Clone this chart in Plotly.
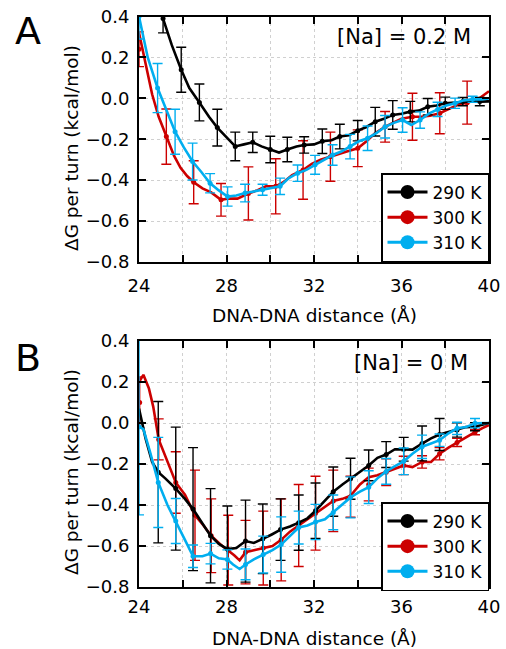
import plotly.graph_objects as go

W, H = 506, 649

# ---------------- Panel A : [Na] = 0.2 M ----------------
a290_line_x = [25.1, 25.5, 25.93, 26.3, 26.76, 27.2, 27.58, 28.0, 28.4, 28.8, 29.2, 29.6, 30.0, 30.4, 30.78, 31.2, 31.55, 32.0, 32.38, 32.8, 33.18, 33.6, 34.0, 34.4, 34.8, 35.2, 35.6, 36.0, 36.4, 36.8, 37.2, 37.6, 38.0, 38.4, 38.8, 39.2, 39.58, 40.0]
a290_line_y = [0.39, 0.26, 0.14, 0.05, -0.02, -0.09, -0.143, -0.19, -0.235, -0.225, -0.215, -0.235, -0.25, -0.265, -0.25, -0.235, -0.228, -0.225, -0.21, -0.205, -0.187, -0.18, -0.158, -0.14, -0.114, -0.1, -0.081, -0.075, -0.065, -0.06, -0.041, -0.035, -0.024, -0.02, -0.016, -0.015, -0.016, -0.015]
a290_x = [25.1, 25.93, 26.76, 27.58, 28.4, 29.2, 30.0, 30.78, 31.55, 32.38, 33.18, 34.0, 34.8, 35.6, 36.4, 37.2, 38.0, 38.8, 39.58]
a290_y = [0.39, 0.14, -0.02, -0.143, -0.235, -0.215, -0.25, -0.25, -0.228, -0.21, -0.187, -0.158, -0.114, -0.081, -0.065, -0.041, -0.024, -0.016, -0.016]
a290_err = [0.07, 0.11, 0.09, 0.09, 0.07, 0.05, 0.065, 0.06, 0.04, 0.06, 0.06, 0.05, 0.07, 0.07, 0.05, 0.04, 0.03, 0.02, 0.02]

a300_line_x = [24.0, 24.3, 24.6, 24.9, 25.25, 25.6, 25.9, 26.2, 26.5, 26.9, 27.3, 27.75, 28.1, 28.5, 29.0, 29.4, 29.8, 30.25, 30.6, 31.0, 31.5, 31.9, 32.3, 32.75, 33.1, 33.5, 34.0, 34.4, 34.8, 35.25, 35.6, 36.0, 36.5, 36.9, 37.3, 37.75, 38.2, 38.6, 39.0, 39.5, 40.0]
a300_line_y = [0.32, 0.17, 0.02, -0.09, -0.187, -0.28, -0.34, -0.38, -0.41, -0.44, -0.46, -0.496, -0.49, -0.49, -0.465, -0.45, -0.43, -0.43, -0.41, -0.375, -0.35, -0.32, -0.3, -0.285, -0.27, -0.26, -0.244, -0.21, -0.17, -0.139, -0.12, -0.1, -0.09, -0.09, -0.085, -0.073, -0.05, -0.03, -0.021, -0.005, 0.035]
a300_x = [24.0, 25.25, 26.5, 27.75, 29.0, 30.25, 31.5, 32.75, 34.0, 35.25, 36.5, 37.75, 39.0]
a300_y = [0.24, -0.187, -0.41, -0.496, -0.465, -0.43, -0.35, -0.285, -0.244, -0.139, -0.09, -0.073, -0.021]
a300_err = [0.085, 0.135, 0.105, 0.08, 0.13, 0.135, 0.143, 0.12, 0.09, 0.075, 0.115, 0.1, 0.105]

a310_line_x = [24.0, 24.4, 24.85, 25.25, 25.65, 26.05, 26.45, 26.85, 27.25, 27.65, 28.05, 28.45, 28.85, 29.25, 29.65, 30.05, 30.45, 30.85, 31.25, 31.65, 32.05, 32.45, 32.85, 33.25, 33.65, 34.05, 34.45, 34.85, 35.25, 35.65, 36.05, 36.45, 36.85, 37.25, 37.65, 38.05, 38.45, 38.85, 39.25, 39.65, 40.0]
a310_line_y = [0.40, 0.2, 0.05, -0.06, -0.163, -0.24, -0.309, -0.36, -0.415, -0.45, -0.48, -0.475, -0.463, -0.455, -0.447, -0.44, -0.43, -0.39, -0.366, -0.35, -0.325, -0.3, -0.277, -0.26, -0.236, -0.21, -0.195, -0.17, -0.139, -0.12, -0.106, -0.13, -0.106, -0.075, -0.054, -0.035, -0.024, -0.01, -0.005, -0.005, 0.0]
a310_x = [24.0, 24.85, 25.65, 26.45, 27.25, 28.05, 28.85, 29.65, 30.45, 31.25, 32.05, 32.85, 33.65, 34.45, 35.25, 36.05, 36.85, 37.65, 38.45, 39.25]
a310_y = [0.40, 0.05, -0.163, -0.309, -0.415, -0.48, -0.463, -0.447, -0.43, -0.366, -0.325, -0.277, -0.236, -0.195, -0.139, -0.106, -0.106, -0.054, -0.024, -0.005]
a310_err = [0.11, 0.12, 0.11, 0.09, 0.047, 0.047, 0.043, 0.027, 0.04, 0.04, 0.046, 0.05, 0.06, 0.06, 0.055, 0.06, 0.04, 0.035, 0.025, 0.015]

# ---------------- Panel B : [Na] = 0 M ----------------
b290_line_x = [24.0, 24.15, 24.3, 24.6, 24.88, 25.2, 25.68, 26.1, 26.47, 26.9, 27.27, 27.65, 28.04, 28.45, 28.87, 29.25, 29.66, 30.05, 30.47, 30.9, 31.3, 31.7, 32.07, 32.5, 32.88, 33.3, 33.67, 34.1, 34.5, 34.9, 35.3, 35.7, 36.1, 36.5, 36.94, 37.35, 37.74, 38.15, 38.54, 38.95, 39.36, 40.0]
b290_line_y = [0.07, 0.0, -0.075, -0.19, -0.24, -0.27, -0.32, -0.37, -0.42, -0.49, -0.55, -0.59, -0.615, -0.61, -0.576, -0.585, -0.565, -0.545, -0.52, -0.505, -0.486, -0.465, -0.428, -0.38, -0.335, -0.3, -0.272, -0.24, -0.207, -0.17, -0.154, -0.128, -0.128, -0.13, -0.1, -0.075, -0.056, -0.045, -0.034, -0.02, -0.018, 0.0]
b290_x = [24.88, 25.68, 26.47, 27.27, 28.04, 28.87, 29.66, 30.47, 31.3, 32.07, 32.88, 33.67, 34.5, 35.3, 36.1, 36.94, 37.74, 38.54, 39.36]
b290_y = [-0.24, -0.32, -0.42, -0.55, -0.615, -0.576, -0.565, -0.52, -0.486, -0.428, -0.335, -0.272, -0.207, -0.154, -0.128, -0.1, -0.056, -0.034, -0.018]
b290_err = [0.345, 0.30, 0.30, 0.23, 0.21, 0.2, 0.17, 0.15, 0.135, 0.135, 0.12, 0.1, 0.075, 0.063, 0.058, 0.085, 0.078, 0.035, 0.02]

b300_line_x = [24.0, 24.2, 24.45, 24.65, 24.9, 25.2, 25.68, 26.1, 26.56, 26.95, 27.3, 27.7, 28.08, 28.35, 28.6, 28.87, 29.3, 29.68, 30.1, 30.5, 30.9, 31.3, 31.7, 32.07, 32.5, 32.88, 33.3, 33.67, 34.1, 34.5, 34.9, 35.3, 35.7, 36.1, 36.5, 36.94, 37.35, 37.74, 38.15, 38.54, 38.95, 39.36, 39.7, 40.0]
b300_line_y = [0.2, 0.235, 0.17, 0.08, -0.08, -0.16, -0.29, -0.35, -0.45, -0.5, -0.55, -0.59, -0.62, -0.645, -0.67, -0.63, -0.62, -0.61, -0.6, -0.57, -0.53, -0.5, -0.47, -0.44, -0.41, -0.38, -0.37, -0.355, -0.3, -0.264, -0.255, -0.24, -0.225, -0.207, -0.215, -0.19, -0.19, -0.15, -0.12, -0.095, -0.07, -0.045, -0.025, -0.01]
b300_x = [24.03, 24.9, 25.68, 26.56, 27.3, 28.08, 28.87, 29.68, 30.5, 31.3, 32.07, 32.88, 33.67, 34.5, 35.3, 36.1, 36.94, 37.74, 38.54, 39.36]
b300_y = [0.1, -0.08, -0.29, -0.45, -0.55, -0.62, -0.63, -0.61, -0.57, -0.5, -0.44, -0.38, -0.36, -0.3, -0.24, -0.207, -0.19, -0.15, -0.095, -0.045]
b300_err = [0.125, 0.1, 0.15, 0.22, 0.18, 0.17, 0.155, 0.18, 0.2, 0.2, 0.18, 0.15, 0.1, 0.08, 0.065, 0.045, 0.03, 0.03, 0.02, 0.012]

b310_line_x = [24.0, 24.2, 24.5, 24.88, 25.3, 25.68, 26.1, 26.47, 26.9, 27.27, 27.65, 28.04, 28.3, 28.6, 28.87, 29.25, 29.68, 30.1, 30.5, 30.9, 31.3, 31.7, 32.07, 32.5, 32.88, 33.3, 33.67, 34.1, 34.5, 34.9, 35.3, 35.7, 36.1, 36.5, 36.94, 37.35, 37.74, 38.15, 38.54, 38.95, 39.36, 40.0]
b310_line_y = [-0.018, -0.03, -0.14, -0.29, -0.4, -0.478, -0.57, -0.65, -0.65, -0.637, -0.66, -0.666, -0.69, -0.712, -0.69, -0.665, -0.642, -0.62, -0.593, -0.55, -0.51, -0.5, -0.483, -0.47, -0.436, -0.4, -0.363, -0.335, -0.313, -0.27, -0.236, -0.21, -0.187, -0.15, -0.116, -0.1, -0.084, -0.05, -0.026, -0.02, -0.001, 0.0]
b310_x = [24.0, 24.88, 25.68, 26.47, 27.27, 28.04, 28.87, 29.68, 30.5, 31.3, 32.07, 32.88, 33.67, 34.5, 35.3, 36.1, 36.94, 37.74, 38.54, 39.36]
b310_y = [-0.018, -0.29, -0.478, -0.65, -0.637, -0.666, -0.69, -0.642, -0.593, -0.51, -0.483, -0.436, -0.363, -0.313, -0.236, -0.187, -0.116, -0.084, -0.026, -0.001]
b310_err = [0.43, 0.22, 0.11, 0.055, 0.05, 0.047, 0.075, 0.09, 0.135, 0.08, 0.086, 0.085, 0.1, 0.08, 0.063, 0.065, 0.057, 0.03, 0.03, 0.023]

series_names = ["290 K", "300 K", "310 K"]
x_tickvals = [24, 26, 28, 30, 32, 34, 36, 38, 40]
x_ticktext = ["24", "", "28", "", "32", "", "36", "", "40"]
y_tickvals = [-0.8, -0.6, -0.4, -0.2, 0.0, 0.2, 0.4]

COL = {"290 K": "#000000", "300 K": "#CC0000", "310 K": "#00AEEF"}
FONT = "DejaVu Sans"

fig = go.Figure()

panels = {
    "A": {"xa": "x", "ya": "y", "legend": "legend",
          "data": {"290 K": (a290_line_x, a290_line_y, a290_x, a290_y, a290_err),
                   "300 K": (a300_line_x, a300_line_y, a300_x, a300_y, a300_err),
                   "310 K": (a310_line_x, a310_line_y, a310_x, a310_y, a310_err)}},
    "B": {"xa": "x2", "ya": "y2", "legend": "legend2",
          "data": {"290 K": (b290_line_x, b290_line_y, b290_x, b290_y, b290_err),
                   "300 K": (b300_line_x, b300_line_y, b300_x, b300_y, b300_err),
                   "310 K": (b310_line_x, b310_line_y, b310_x, b310_y, b310_err)}},
}

draw_order = ["300 K", "290 K", "310 K"]
for pk, p in panels.items():
    for name in draw_order:
        lx, ly, ex, ey, ee = p["data"][name]
        c = COL[name]
        fig.add_trace(go.Scatter(x=lx, y=ly, mode="lines", line=dict(color=c, width=2.6),
                                 xaxis=p["xa"], yaxis=p["ya"], showlegend=False, hoverinfo="skip"))
        fig.add_trace(go.Scatter(x=ex, y=ey, mode="markers", marker=dict(color=c, size=5),
                                 error_y=dict(type="data", array=ee, visible=True, color=c,
                                              thickness=1.4, width=5),
                                 xaxis=p["xa"], yaxis=p["ya"], showlegend=False, hoverinfo="skip"))
    for name in series_names:
        fig.add_trace(go.Scatter(x=[None], y=[None], mode="lines+markers", name=name,
                                 line=dict(color=COL[name], width=3),
                                 marker=dict(color=COL[name], size=14),
                                 xaxis=p["xa"], yaxis=p["ya"], legend=p["legend"]))

xl, xr = 139 / W, 489 / W
dom_a = [1 - 262 / H, 1 - 16.5 / H]
dom_b = [1 - 587 / H, 1 - 341 / H]

axis_common = dict(showline=True, linecolor="black", linewidth=2, mirror="allticks",
                   ticks="inside", ticklen=7, tickwidth=2, tickcolor="black",
                   showgrid=True, gridcolor="#d0d0d0", gridwidth=1, griddash="dot",
                   zeroline=False, automargin=False,
                   tickfont=dict(family=FONT, size=18, color="black"))

fig.update_layout(
    width=W, height=H, margin=dict(l=0, r=0, t=0, b=0, autoexpand=False),
    paper_bgcolor="white", plot_bgcolor="white",
    xaxis=dict(domain=[xl, xr], range=[24, 40], anchor="y", tickvals=x_tickvals,
               ticktext=x_ticktext, ticklabelstandoff=6, **axis_common),
    yaxis=dict(domain=dom_a, range=[-0.8, 0.4], anchor="x", tickvals=y_tickvals,
               tickformat=".1f", ticklabelstandoff=4, **axis_common),
    xaxis2=dict(domain=[xl, xr], range=[24, 40], anchor="y2", tickvals=x_tickvals,
                ticktext=x_ticktext, ticklabelstandoff=2, **axis_common),
    yaxis2=dict(domain=dom_b, range=[-0.8, 0.4], anchor="x2", tickvals=y_tickvals,
                tickformat=".1f", ticklabelstandoff=4, **axis_common),
    legend=dict(x=xr, xanchor="right", y=1 - 173 / H, yanchor="top",
                bgcolor="white", bordercolor="black", borderwidth=1.5,
                font=dict(family=FONT, size=17, color="black"), itemwidth=40,
                tracegroupgap=0),
    legend2=dict(x=xr, xanchor="right", y=1 - 502 / H, yanchor="top",
                 bgcolor="white", bordercolor="black", borderwidth=1.5,
                 font=dict(family=FONT, size=17, color="black"), itemwidth=40,
                 tracegroupgap=0),
)

ann = [
    dict(text="A", x=28 / W, y=1 - 31 / H, font=dict(size=38)),
    dict(text="B", x=28 / W, y=1 - 358 / H, font=dict(size=38)),
    dict(text="[Na] = 0.2 M", x=404 / W, y=1 - 37 / H, font=dict(size=21)),
    dict(text="[Na] = 0 M", x=411 / W, y=1 - 363 / H, font=dict(size=21)),
    dict(text="DNA-DNA distance (Å)", x=314 / W, y=1 - 315 / H, font=dict(size=18.5)),
    dict(text="DNA-DNA distance (Å)", x=314 / W, y=1 - 638 / H, font=dict(size=18.5)),
    dict(text="ΔG per turn (kcal/mol)", x=71 / W, y=1 - 148 / H, font=dict(size=18.5), textangle=-90),
    dict(text="ΔG per turn (kcal/mol)", x=71 / W, y=1 - 472 / H, font=dict(size=18.5), textangle=-90),
]
for a in ann:
    a["font"]["family"] = FONT
    a["font"]["color"] = "black"
    fig.add_annotation(xref="paper", yref="paper", showarrow=False,
                       xanchor="center", yanchor="middle", **a)

fig.write_html("out.html", config={"displayModeBar": False},
               post_script="document.body.style.margin='0px';document.body.style.overflow='hidden';")
